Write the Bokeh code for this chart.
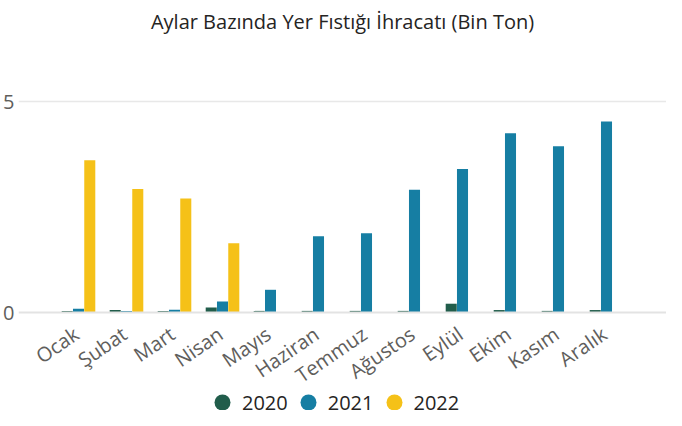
import math
from bokeh.plotting import figure
from bokeh.models import (ColumnDataSource, FactorRange, Range1d, FixedTicker, Legend,
                          LegendItem, Span)
from bokeh.core.properties import value
from bokeh.transform import dodge
from bokeh.embed import file_html
from bokeh.resources import INLINE

months = ["Ocak", "Şubat", "Mart", "Nisan", "Mayıs", "Haziran", "Temmuz",
          "Ağustos", "Eylül", "Ekim", "Kasım", "Aralık"]
v2020 = [0.04, 0.06, 0.04, 0.12, 0.04, 0.04, 0.04, 0.04, 0.21, 0.06, 0.04, 0.06]
v2021 = [0.09, 0.04, 0.07, 0.26, 0.54, 1.81, 1.88, 2.91, 3.40, 4.25, 3.94, 4.53]
months_2022 = ["Ocak", "Şubat", "Mart", "Nisan"]
v2022 = [3.61, 2.93, 2.70, 1.64]
series = ["2020", "2021", "2022"]
colors = ["#215D4B", "#167EA3", "#F5C118"]
y_ticks = [0, 5]

FONT = "Open Sans"
TXT = "#605E5C"

p = figure(x_range=FactorRange(*months, range_padding=0.75, range_padding_units="absolute"),
           y_range=Range1d(-2.32, 6.47),
           width=666, height=410, x_axis_location=None,
           output_backend="svg", toolbar_location=None,
           title="Aylar Bazında Yer Fıstığı İhracatı (Bin Ton)",
           min_border_left=16, min_border_right=0, min_border_top=35,
           min_border_bottom=0)

src20 = ColumnDataSource(dict(m=months, v=v2020))
src21 = ColumnDataSource(dict(m=months, v=v2021))
src22 = ColumnDataSource(dict(m=months_2022, v=v2022))
srcm = ColumnDataSource(dict(m=months, y=[0] * len(months)))

# baseline (x axis line)
p.add_layout(Span(location=0, dimension="width", line_color="#E3E3E3", line_width=2))

bw = 0.23
p.vbar(x=dodge("m", -0.235, range=p.x_range), top="v", width=bw, source=src20,
       color=colors[0], line_color=None)
p.vbar(x=dodge("m", 0.0, range=p.x_range), top="v", width=bw, source=src21,
       color=colors[1], line_color=None)
p.vbar(x=dodge("m", 0.235, range=p.x_range), top="v", width=bw, source=src22,
       color=colors[2], line_color=None)

# month labels, rotated
p.text(x="m", y="y", text="m", source=srcm, angle=0.6, text_align="right",
       text_baseline="middle", x_offset=-2, y_offset=19,
       text_font=value(FONT), text_font_size="20px", text_color=TXT)

# legend with circle markers (marker renderers hold no visible point)
items = []
for s, c in zip(series, colors):
    r = p.scatter(x=[months[0]], y=[float("nan")], marker="circle", size=19,
                  color=c, line_color=None)
    items.append(LegendItem(label=s, renderers=[r]))
legend = Legend(items=items, orientation="horizontal", location=(184, -12),
                label_text_font=FONT, label_text_font_size="20px",
                label_text_color="#252423", border_line_color=None,
                glyph_width=40, glyph_height=40, label_standoff=0, spacing=0,
                padding=0, margin=0, background_fill_alpha=0)
p.add_layout(legend, "center")

p.title.align = "center"
p.title.text_font = FONT
p.title.text_font_size = "20px"
p.title.text_font_style = "normal"
p.title.text_color = "#252423"

p.outline_line_color = None
for g in p.xgrid:
    g.grid_line_color = None
p.ygrid.grid_line_color = "#E8E8E8"
p.ygrid.grid_line_width = 1.5
p.ygrid.ticker = FixedTicker(ticks=[y_ticks[1]])

p.yaxis.ticker = FixedTicker(ticks=y_ticks)
p.yaxis.axis_line_color = None
p.yaxis.major_tick_line_color = None
p.yaxis.minor_tick_line_color = None
p.yaxis.major_tick_out = 0
p.yaxis.major_tick_in = 0
p.yaxis.major_label_text_font = FONT
p.yaxis.major_label_text_font_size = "20px"
p.yaxis.major_label_text_color = TXT
p.yaxis.major_label_standoff = 4

open("out.html", "w").write(file_html(p, INLINE))
